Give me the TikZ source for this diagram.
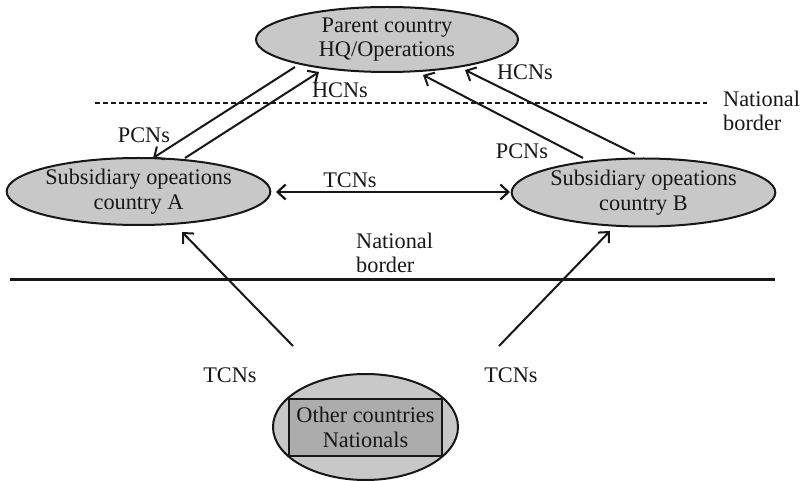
\documentclass[tikz,border=0pt]{standalone}
\usepackage{fontspec}
\setmainfont{Liberation Serif}
\usetikzlibrary{shapes.geometric,arrows.meta}
\definecolor{inkc}{RGB}{25,22,22}
\definecolor{ovalfill}{RGB}{200,200,200}
\definecolor{boxfill}{RGB}{172,172,172}
\tikzset{
  lbl/.style={font=\fontsize{22.3}{24.5}\selectfont, text=inkc, inner sep=0pt},
  oval/.style={ellipse, draw=inkc, line width=2pt, fill=ovalfill, inner sep=0pt,
    align=center, font=\fontsize{22.3}{24.5}\selectfont, text=inkc},
  flow/.style={draw=inkc, line width=2pt, -{Straight Barb[length=8pt,width=15pt]}},
  flowboth/.style={draw=inkc, line width=2.2pt, {Straight Barb[length=8pt,width=15pt]}-{Straight Barb[length=8pt,width=15pt]}}
}
\begin{document}
\begin{tikzpicture}[x=1pt,y=-1pt]
\useasboundingbox (0,0) rectangle (804,481);

% the four operation sites
\node[oval, minimum width=262pt, minimum height=65pt] (hq) at (387,39.5)
  {Parent country\\HQ/Operations};
\node[oval, minimum width=259pt, minimum height=67pt] (suba) at (138.5,191.5)
  {Subsidiary opeations\\country A};
\node[oval, minimum width=263pt, minimum height=68pt] (subb) at (643.5,192.5)
  {Subsidiary opeations\\country B};
\node[ellipse, draw=inkc, line width=2pt, fill=ovalfill, minimum width=185pt,
  minimum height=106pt, inner sep=0pt] (oth) at (365.5,427) {};
\node[draw=inkc, line width=2.6pt, fill=boxfill, minimum width=153pt, minimum height=57pt,
  inner sep=0pt, align=center, font=\fontsize{22.3}{24.5}\selectfont, text=inkc] (othbox)
  at (365.5,427.5) {Other countries\\Nationals};

% national borders
\coordinate (dashl) at (95,103);
\coordinate (dashr) at (707,103);
\draw[draw=inkc, line width=1.7pt, dash pattern=on 5pt off 3pt] (dashl) -- (dashr);
\coordinate (solidl) at (10,280);
\coordinate (solidr) at (775,280);
\draw[draw=inkc, line width=3pt] (solidl) -- (solidr);
\node[lbl, anchor=base west, align=left] (nb1) at (723,131) {National\\border};
\node[lbl, anchor=base west, align=left] (nb2) at (356,273) {National\\border};

% end points of the transfer arrows
\coordinate (hqA1) at (295,67);
\coordinate (aTip) at (153,158);
\coordinate (aFoot) at (185,158);
\coordinate (hqA2) at (319,72);
\coordinate (bFoot1) at (583,158);
\coordinate (hqB1) at (423,75);
\coordinate (bFoot2) at (635,154);
\coordinate (hqB2) at (465,70);
\coordinate (botL) at (293,346);
\coordinate (aBot) at (182,232);
\coordinate (botR) at (499,346);
\coordinate (bBot) at (610,231);
\coordinate (aSide) at (276,192);
\coordinate (bSide) at (510,192);

% transfers between HQ and subsidiaries
\draw[flow] (hqA1) -- (aTip);
\draw[flow] (aFoot) -- (hqA2);
\draw[flow] (bFoot1) -- (hqB1);
\draw[flow] (bFoot2) -- (hqB2);
\draw[flowboth] (aSide) -- (bSide);

% third-country nationals moving in
\draw[flow] (botL) -- (aBot);
\draw[flow] (botR) -- (bBot);

% labels on the flows
\node[lbl] (l1) at (144,135) {PCNs};
\node[lbl] (l2) at (340,90.5) {HCNs};
\node[lbl] (l3) at (525,72.5) {HCNs};
\node[lbl] (l4) at (522,151.5) {PCNs};
\node[lbl] (l5) at (350,180.5) {TCNs};
\node[lbl] (l6) at (230,375) {TCNs};
\node[lbl] (l7) at (511,375) {TCNs};
\end{tikzpicture}
\end{document}
